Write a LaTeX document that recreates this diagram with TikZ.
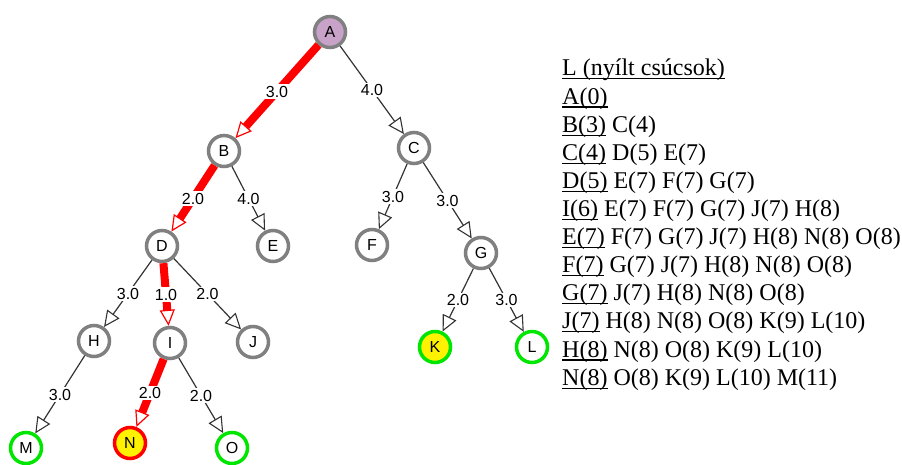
\documentclass[tikz,border=0pt]{standalone}
\usepackage{fontspec}
\setmainfont{Liberation Serif}
\newfontfamily\labsans{Liberation Sans}
\usetikzlibrary{arrows.meta}
\definecolor{nodegray}{RGB}{128,128,128}
\definecolor{goalgreen}{RGB}{0,230,0}
\definecolor{startpurple}{RGB}{200,162,200}
\definecolor{pathred}{RGB}{255,0,0}
\newcommand\ulx[1]{\setbox0\hbox{#1}\rlap{\rule[-3.5pt]{\wd0}{1.1pt}}\box0\relax}
\tikzset{
  vtx/.style={circle, draw=nodegray, line width=3.5pt, fill=white, minimum size=31pt, inner sep=0pt, font=\labsans\fontsize{16}{18}\selectfont},
  goalvtx/.style={vtx, draw=goalgreen},
  edgeplain/.style={draw=black!80, line width=1.2pt, -{Triangle[open, length=16pt, width=15pt, line width=1.1pt]}},
  edgered/.style={draw=pathred, line width=8pt, -{Triangle[open, length=16pt, width=15pt, line width=1.2pt]}},
  wlab/.style={midway, fill=white, inner sep=1.5pt, text=black, font=\labsans\fontsize{16}{18}\selectfont},
  listline/.style={anchor=base west, inner sep=0pt, font=\fontsize{24}{28}\selectfont}
}
\begin{document}
\begin{tikzpicture}[x=1pt, y=-1pt]
\useasboundingbox (0,0) rectangle (902,465);
% nodes
\node[vtx, fill=startpurple] (A) at (330,32) {A};
\node[vtx] (B) at (224,151) {B};
\node[vtx] (C) at (414,148) {C};
\node[vtx] (D) at (162,246) {D};
\node[vtx] (E) at (273,246) {E};
\node[vtx] (F) at (372,245) {F};
\node[vtx] (G) at (481,253) {G};
\node[vtx] (H) at (94,341) {H};
\node[vtx] (I) at (170,343) {I};
\node[vtx] (J) at (253,342) {J};
\node[goalvtx, fill=yellow] (K) at (435,347) {K};
\node[goalvtx] (L) at (532,347) {L};
\node[goalvtx] (M) at (26,448) {M};
\node[vtx, draw=pathred, fill=yellow] (N) at (130,443) {N};
\node[goalvtx] (O) at (232,448) {O};
% edges
\draw[edgered] (A) -- (B) node[wlab] {3.0};
\draw[edgeplain] (A) -- (C) node[wlab] {4.0};
\draw[edgered] (B) -- (D) node[wlab] {2.0};
\draw[edgeplain] (B) -- (E) node[wlab] {4.0};
\draw[edgeplain] (C) -- (F) node[wlab] {3.0};
\draw[edgeplain] (C) -- (G) node[wlab] {3.0};
\draw[edgeplain] (D) -- (H) node[wlab] {3.0};
\draw[edgered] (D) -- (I) node[wlab] {1.0};
\draw[edgeplain] (D) -- (J) node[wlab] {2.0};
\draw[edgeplain] (G) -- (K) node[wlab] {2.0};
\draw[edgeplain] (G) -- (L) node[wlab] {3.0};
\draw[edgeplain] (H) -- (M) node[wlab] {3.0};
\draw[edgered] (I) -- (N) node[wlab] {2.0};
\draw[edgeplain] (I) -- (O) node[wlab] {2.0};
% open list
\node[listline] (t0) at (562,76.0) {\ulx{L (nyílt csúcsok)}};
\node[listline] (t1) at (562,104.1) {\ulx{A(0)}};
\node[listline] (t2) at (562,132.2) {\ulx{B(3)} C(4)};
\node[listline] (t3) at (562,160.3) {\ulx{C(4)} D(5) E(7)};
\node[listline] (t4) at (562,188.4) {\ulx{D(5)} E(7) F(7) G(7)};
\node[listline] (t5) at (562,216.5) {\ulx{I(6)} E(7) F(7) G(7) J(7) H(8)};
\node[listline] (t6) at (562,244.6) {\ulx{E(7)} F(7) G(7) J(7) H(8) N(8) O(8)};
\node[listline] (t7) at (562,272.7) {\ulx{F(7)} G(7) J(7) H(8) N(8) O(8)};
\node[listline] (t8) at (562,300.8) {\ulx{G(7)} J(7) H(8) N(8) O(8)};
\node[listline] (t9) at (562,328.9) {\ulx{J(7)} H(8) N(8) O(8) K(9) L(10)};
\node[listline] (t10) at (562,357.0) {\ulx{H(8)} N(8) O(8) K(9) L(10)};
\node[listline] (t11) at (562,385.1) {\ulx{N(8)} O(8) K(9) L(10) M(11)};
\end{tikzpicture}
\end{document}
